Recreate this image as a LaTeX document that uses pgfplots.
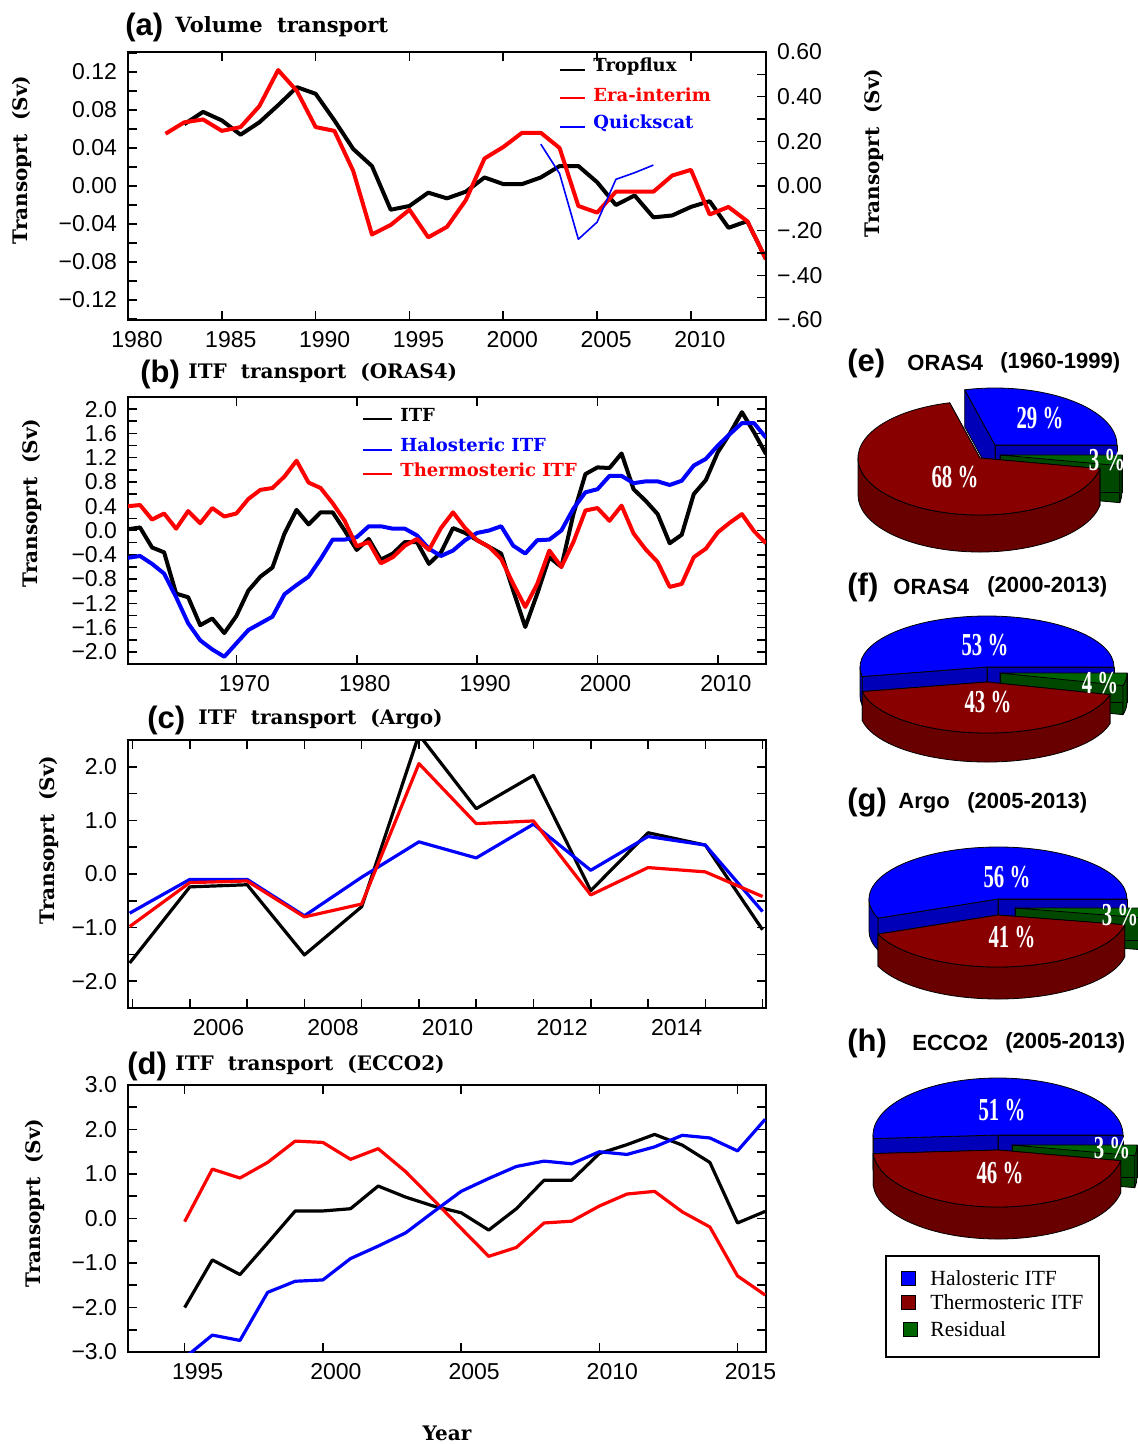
\documentclass[border=0pt]{standalone}
\usepackage{fontspec}
\setmainfont{Liberation Sans}
\newfontfamily\slab{DejaVu Serif}
\newfontfamily\tnr{Liberation Serif}
\newfontfamily\pief[FakeStretch=0.65]{Liberation Serif}
\usepackage{pgfplots}
\pgfplotsset{compat=1.18}

\definecolor{pblue}{RGB}{0,0,255}
\definecolor{pblueS}{RGB}{0,0,185}
\definecolor{pred}{RGB}{136,0,0}
\definecolor{predS}{RGB}{104,0,0}
\definecolor{pgreen}{RGB}{0,100,0}
\definecolor{pgreenS}{RGB}{0,72,0}

\pgfplotsset{
 panel/.style={scale only axis, width=319pt, height=134pt, anchor=south west,
   axis line style={line width=0.9pt},
   every tick/.style={black, line width=0.8pt},
   major tick length=4.5pt, minor tick length=4.5pt,
   tick align=inside,
   tick label style={font=\fontsize{11.5}{12}\selectfont},
   /pgf/number format/1000 sep={},
   /pgf/number format/assume math mode=true,
 },
}

\newcommand{\pieslice}[6]{%
\begin{scope}[shift={(#3,#4)}]
\pgfmathsetmacro{\xA}{\rx*cos(#1)}\pgfmathsetmacro{\yA}{\ry*sin(#1)}%
\pgfmathsetmacro{\xB}{\rx*cos(#2)}\pgfmathsetmacro{\yB}{\ry*sin(#2)}%
\filldraw[fill=#6, draw=black, line width=0.4pt, line join=round] (0,0) -- (\xA,\yA) -- (\xA,\yA-\dep) -- (0,-\dep) -- cycle;
\filldraw[fill=#6, draw=black, line width=0.4pt, line join=round] (0,0) -- (\xB,\yB) -- (\xB,\yB-\dep) -- (0,-\dep) -- cycle;
\pgfmathsetmacro{\sA}{max(#1,180)}\pgfmathsetmacro{\eA}{min(#2,360)}%
\pgfmathtruncatemacro{\vis}{\sA<\eA}%
\ifnum\vis=1
\filldraw[fill=#6, draw=black, line width=0.4pt, line join=round] ({\rx*cos(\sA)},{\ry*sin(\sA)}) arc[start angle=\sA, end angle=\eA, x radius=\rx, y radius=\ry] -- ++(0,-\dep) arc[start angle=\eA, end angle=\sA, x radius=\rx, y radius=\ry] -- cycle;
\fi
\filldraw[fill=#5, draw=black, line width=0.4pt, line join=round] (0,0) -- (\xA,\yA) arc[start angle=#1, end angle=#2, x radius=\rx, y radius=\ry] -- cycle;
\end{scope}}

\newcommand{\ttl}[1]{\fontsize{15.5}{16}\selectfont\bfseries #1}
\newcommand{\stl}[1]{\slab\bfseries\fontsize{10}{12}\selectfont #1}
\newcommand{\lgd}[1]{\slab\bfseries\fontsize{9}{11}\selectfont #1}
\newcommand{\ptl}[1]{\fontsize{11}{12}\selectfont\bfseries #1}
\newcommand{\pct}[1]{\pief\bfseries\fontsize{16}{16}\selectfont #1}

\begin{document}
\begin{tikzpicture}
\path[use as bounding box] (0,0) rectangle (569pt,-722pt);

% ---------------- (a)
\begin{axis}[panel, at={(64pt,-160pt)}, xmin=1980, xmax=2014, ymin=-0.141, ymax=0.141,
 xtick={1980,1985,1990,1995,2000,2005,2010},
 ytick={-0.12,-0.08,-0.04,0,0.04,0.08,0.12},
 yticklabels={−0.12,−0.08,−0.04,0.00,0.04,0.08,0.12},
 minor ytick={-0.14,-0.10,-0.06,-0.02,0.02,0.06,0.10,0.14},
 ytick pos=left, xtick pos=both,
 xticklabel style={yshift=-2pt, xshift=4.5pt}, yticklabel style={xshift=-2pt}]
\addplot[black, line width=2pt, line join=round] coordinates {
(1983,0.065)(1984,0.078)(1985,0.069)(1986,0.054)(1987,0.067)(1988,0.085)(1989,0.104)
(1990,0.097)(1991,0.069)(1992,0.039)(1993,0.021)(1994,-0.025)(1995,-0.021)(1996,-0.007)
(1997,-0.013)(1998,-0.006)(1999,0.009)(2000,0.002)(2001,0.002)(2002,0.009)(2003,0.021)
(2004,0.021)(2005,0.004)(2006,-0.020)(2007,-0.010)(2008,-0.033)(2009,-0.031)(2010,-0.022)
(2011,-0.016)(2012,-0.044)(2013,-0.037)(2014,-0.077)};
\addplot[red, line width=2pt, line join=round] coordinates {
(1982,0.055)(1983,0.067)(1984,0.070)(1985,0.058)(1986,0.062)(1987,0.084)(1988,0.122)
(1989,0.100)(1990,0.062)(1991,0.058)(1992,0.016)(1993,-0.051)(1994,-0.041)(1995,-0.025)
(1996,-0.054)(1997,-0.043)(1998,-0.015)(1999,0.029)(2000,0.041)(2001,0.056)(2002,0.056)
(2003,0.040)(2004,-0.021)(2005,-0.028)(2006,-0.006)(2007,-0.006)(2008,-0.006)(2009,0.011)
(2010,0.017)(2011,-0.030)(2012,-0.022)(2013,-0.037)(2014,-0.077)};
\addplot[blue, line width=0.8pt, line join=round] coordinates {
(2002,0.044)(2003,0.013)(2004,-0.056)(2005,-0.038)(2006,0.007)(2007,0.014)(2008,0.022)};
\end{axis}
\begin{axis}[panel, at={(64pt,-160pt)}, xmin=1980, xmax=2014, ymin=-0.6, ymax=0.6,
 axis y line*=right, axis x line=none,
 ytick={-0.6,-0.4,-0.2,0,0.2,0.4,0.6},
 yticklabels={−.60,−.40,−.20,0.00,0.20,0.40,0.60},
 minor ytick={-0.5,-0.3,-0.1,0.1,0.3,0.5},
 yticklabel style={xshift=2pt}]
\end{axis}

% ---------------- (b)
\begin{axis}[panel, at={(64pt,-332pt)}, height=133.5pt, xmin=1961, xmax=2014, ymin=-2.2, ymax=2.2,
 xtick={1970,1980,1990,2000,2010},
 ytick={-2,-1.6,-1.2,-0.8,-0.4,0,0.4,0.8,1.2,1.6,2},
 yticklabels={−2.0,−1.6,−1.2,−0.8,−0.4,0.0,0.4,0.8,1.2,1.6,2.0},
 minor ytick={-1.8,-1.4,-1.0,-0.6,-0.2,0.2,0.6,1.0,1.4,1.8},
 xticklabel style={yshift=-2pt, xshift=4pt}, yticklabel style={xshift=-2pt}]
\addplot[black, line width=2pt, line join=round] coordinates {
(1961,0.02)(1962,0.05)(1963,-0.28)(1964,-0.36)(1965,-1.04)(1966,-1.10)(1967,-1.56)(1968,-1.45)
(1969,-1.69)(1970,-1.41)(1971,-0.99)(1972,-0.76)(1973,-0.61)(1974,-0.05)(1975,0.34)(1976,0.10)
(1977,0.30)(1978,0.30)(1979,0.00)(1980,-0.32)(1981,-0.14)(1982,-0.48)(1983,-0.38)(1984,-0.19)
(1985,-0.19)(1986,-0.55)(1987,-0.36)(1988,0.04)(1989,-0.04)(1990,-0.16)(1991,-0.27)(1992,-0.38)
(1993,-0.99)(1994,-1.59)(1995,-1.04)(1996,-0.44)(1997,-0.60)(1998,0.27)(1999,0.93)(2000,1.04)
(2001,1.03)(2002,1.27)(2003,0.68)(2004,0.49)(2005,0.27)(2006,-0.21)(2007,-0.07)(2008,0.60)
(2009,0.83)(2010,1.29)(2011,1.60)(2012,1.95)(2013,1.62)(2014,1.26)};
\addplot[blue, line width=2pt, line join=round] coordinates {
(1961,-0.45)(1962,-0.42)(1963,-0.55)(1964,-0.71)(1965,-1.10)(1966,-1.53)(1967,-1.81)(1968,-1.96)
(1969,-2.08)(1970,-1.86)(1971,-1.64)(1972,-1.53)(1973,-1.42)(1974,-1.05)(1975,-0.90)(1976,-0.76)
(1977,-0.47)(1978,-0.15)(1979,-0.15)(1980,-0.11)(1981,0.07)(1982,0.07)(1983,0.03)(1984,0.03)
(1985,-0.08)(1986,-0.30)(1987,-0.42)(1988,-0.33)(1989,-0.16)(1990,-0.04)(1991,0.00)(1992,0.07)
(1993,-0.25)(1994,-0.38)(1995,-0.16)(1996,-0.15)(1997,0.00)(1998,0.36)(1999,0.63)(2000,0.68)
(2001,0.90)(2002,0.90)(2003,0.78)(2004,0.81)(2005,0.81)(2006,0.75)(2007,0.82)(2008,1.07)
(2009,1.18)(2010,1.40)(2011,1.59)(2012,1.77)(2013,1.77)(2014,1.53)};
\addplot[red, line width=2pt, line join=round] coordinates {
(1961,0.40)(1962,0.42)(1963,0.18)(1964,0.28)(1965,0.03)(1966,0.32)(1967,0.12)(1968,0.37)
(1969,0.23)(1970,0.28)(1971,0.52)(1972,0.67)(1973,0.70)(1974,0.89)(1975,1.15)(1976,0.79)
(1977,0.70)(1978,0.45)(1979,0.16)(1980,-0.26)(1981,-0.19)(1982,-0.54)(1983,-0.44)(1984,-0.25)
(1985,-0.14)(1986,-0.32)(1987,0.04)(1988,0.30)(1989,0.04)(1990,-0.16)(1991,-0.27)(1992,-0.47)
(1993,-0.88)(1994,-1.26)(1995,-0.88)(1996,-0.33)(1997,-0.60)(1998,-0.19)(1999,0.33)(2000,0.37)
(2001,0.16)(2002,0.41)(2003,-0.05)(2004,-0.31)(2005,-0.52)(2006,-0.93)(2007,-0.88)(2008,-0.44)
(2009,-0.30)(2010,-0.03)(2011,0.13)(2012,0.27)(2013,-0.01)(2014,-0.21)};
\end{axis}

% ---------------- (c)
\begin{axis}[panel, at={(64pt,-504pt)}, xmin=2004.42, xmax=2015.56, ymin=-2.5, ymax=2.5,
 xtick={2004.5,2005.5,2006.5,2007.5,2008.5,2009.5,2010.5,2011.5,2012.5,2013.5,2014.5,2015.5},
 xticklabels={},
 extra x ticks={2006,2008,2010,2012,2014},
 extra x tick labels={2006,2008,2010,2012,2014},
 extra x tick style={major tick length=0pt, grid=none, xticklabel style={yshift=-2pt}},
 ytick={-2,-1,0,1,2},
 yticklabels={−2.0,−1.0,0.0,1.0,2.0},
 minor ytick={-2.5,-1.5,-0.5,0.5,1.5,2.5},
 yticklabel style={xshift=-2pt}]
\addplot[black, line width=1.6pt, line join=round] coordinates {
(2004.45,-1.66)(2005.5,-0.24)(2006.5,-0.20)(2007.5,-1.51)(2008.5,-0.61)(2009.5,2.60)
(2010.5,1.22)(2011.5,1.84)(2012.5,-0.31)(2013.5,0.77)(2014.5,0.54)(2015.5,-1.04)};
\addplot[blue, line width=1.6pt, line join=round] coordinates {
(2004.45,-0.73)(2005.5,-0.10)(2006.5,-0.10)(2007.5,-0.78)(2008.5,-0.06)(2009.5,0.60)
(2010.5,0.30)(2011.5,0.93)(2012.5,0.07)(2013.5,0.70)(2014.5,0.54)(2015.5,-0.70)};
\addplot[red, line width=1.6pt, line join=round] coordinates {
(2004.45,-0.98)(2005.5,-0.16)(2006.5,-0.13)(2007.5,-0.80)(2008.5,-0.56)(2009.5,2.06)
(2010.5,0.94)(2011.5,0.99)(2012.5,-0.39)(2013.5,0.12)(2014.5,0.04)(2015.5,-0.42)};
\end{axis}

% ---------------- (d)
\begin{axis}[panel, at={(64pt,-676pt)}, height=133.5pt, xmin=1992.95, xmax=2016.03, ymin=-3, ymax=3,
 xtick={1995,2000,2005,2010,2015},
 ytick={-3,-2,-1,0,1,2,3},
 yticklabels={−3.0,−2.0,−1.0,0.0,1.0,2.0,3.0},
 minor ytick={-2.5,-1.5,-0.5,0.5,1.5,2.5},
 xticklabel style={yshift=-2pt, xshift=6.5pt}, yticklabel style={xshift=-2pt}]
\addplot[black, line width=1.6pt, line join=round] coordinates {
(1995,-2.00)(1996,-0.93)(1997,-1.26)(1998,-0.55)(1999,0.17)(2000,0.17)(2001,0.22)(2002,0.73)
(2003,0.48)(2004,0.28)(2005,0.13)(2006,-0.26)(2007,0.22)(2008,0.86)(2009,0.86)(2010,1.46)
(2011,1.66)(2012,1.89)(2013,1.65)(2014,1.26)(2015,-0.10)(2016,0.16)};
\addplot[red, line width=1.6pt, line join=round] coordinates {
(1995,-0.07)(1996,1.11)(1997,0.91)(1998,1.26)(1999,1.74)(2000,1.71)(2001,1.33)(2002,1.57)
(2003,1.05)(2004,0.42)(2005,-0.22)(2006,-0.85)(2007,-0.65)(2008,-0.10)(2009,-0.06)(2010,0.28)
(2011,0.55)(2012,0.61)(2013,0.15)(2014,-0.19)(2015,-1.29)(2016,-1.72)};
\addplot[blue, line width=1.6pt, line join=round] coordinates {
(1995,-3.13)(1996,-2.62)(1997,-2.74)(1998,-1.66)(1999,-1.41)(2000,-1.38)(2001,-0.90)(2002,-0.62)
(2003,-0.32)(2004,0.15)(2005,0.61)(2006,0.90)(2007,1.17)(2008,1.29)(2009,1.23)(2010,1.50)
(2011,1.44)(2012,1.61)(2013,1.87)(2014,1.81)(2015,1.52)(2016,2.23)};
\end{axis}

% ---------------- annotations and pies (pixel units, y down)
\begin{scope}[x=0.5pt, y=-0.5pt]
% titles
\node[anchor=west, inner sep=0] at (125,27) {\ttl{(a)}};
\node[anchor=west, inner sep=0] at (175,27) {\slab\bfseries\fontsize{10.5}{12}\selectfont Volume\ \ transport};
\node[anchor=west, inner sep=0] at (140,374) {\ttl{(b)}};
\node[anchor=west, inner sep=0] at (188,373) {\stl{ITF\ \ transport\ \ (ORAS4)}};
\node[anchor=west, inner sep=0] at (147,720) {\ttl{(c)}};
\node[anchor=west, inner sep=0] at (198,719) {\stl{ITF\ \ transport\ \ (Argo)}};
\node[anchor=west, inner sep=0] at (127,1066) {\ttl{(d)}};
\node[anchor=west, inner sep=0] at (175,1065) {\stl{ITF\ \ transport\ \ (ECCO2)}};
% y labels
\node[rotate=90] at (22,160) {\stl{Transoprt\ \ (Sv)}};
\node[rotate=90] at (874,153) {\stl{Transoprt\ \ (Sv)}};
\node[rotate=90] at (32,503) {\stl{Transoprt\ \ (Sv)}};
\node[rotate=90] at (49,840) {\stl{Transoprt\ \ (Sv)}};
\node[rotate=90] at (35,1203) {\stl{Transoprt\ \ (Sv)}};
\node at (447,1433) {\stl{Year}};
% legend (a)
\draw[black, line width=1.2pt] (560,70) -- (585,70);
\draw[red, line width=1.2pt] (560,98) -- (585,98);
\draw[blue, line width=1.2pt] (560,127) -- (585,127);
\node[anchor=west, inner sep=0] at (593,67) {\lgd{Tropflux}};
\node[anchor=west, inner sep=0, text=red] at (593,95) {\lgd{Era-interim}};
\node[anchor=west, inner sep=0, text=blue] at (593,123) {\lgd{Quickscat}};
% legend (b)
\draw[black, line width=1.2pt] (363,419) -- (392,419);
\draw[blue, line width=1.2pt] (363,450) -- (392,450);
\draw[red, line width=1.2pt] (363,474) -- (392,474);
\node[anchor=west, inner sep=0] at (400,415) {\lgd{ITF}};
\node[anchor=west, inner sep=0, text=blue] at (400,445) {\lgd{Halosteric ITF}};
\node[anchor=west, inner sep=0, text=red] at (400,470) {\lgd{Thermosteric ITF}};

% pie titles
\node[anchor=west, inner sep=0] at (847,363) {\ttl{(e)}};
\node[anchor=west, inner sep=0] at (907,363) {\ptl{ORAS4}};
\node[anchor=west, inner sep=0] at (1000,363) {\ptl{(1960-1999)}};
\node[anchor=west, inner sep=0] at (847,587) {\ttl{(f)}};
\node[anchor=west, inner sep=0] at (893,587) {\ptl{ORAS4}};
\node[anchor=west, inner sep=0] at (987,587) {\ptl{(2000-2013)}};
\node[anchor=west, inner sep=0] at (847,803) {\ttl{(g)}};
\node[anchor=west, inner sep=0] at (898,803) {\ptl{Argo}};
\node[anchor=west, inner sep=0] at (967,803) {\ptl{(2005-2013)}};
\node[anchor=west, inner sep=0] at (847,1043) {\ttl{(h)}};
\node[anchor=west, inner sep=0] at (912,1043) {\ptl{ECCO2}};
\node[anchor=west, inner sep=0] at (1005,1043) {\ptl{(2005-2013)}};

% pie (e)
\begin{scope}[shift={(980,458)}, y=0.5pt]
\def\rx{122}\def\ry{57}\def\dep{37}
\pieslice{0}{104.4}{15}{13}{pblue}{pblueS}
\pieslice{349.2}{360}{20}{3}{pgreen}{pgreenS}
\pieslice{104.4}{349.2}{0}{0}{pred}{predS}
\end{scope}
\node[text=white] at (1040,418) {\pct{29\,\%}};
\node[text=white] at (955,477) {\pct{68\,\%}};
\node[text=white] at (1107,460) {\pct{3\,\%}};

% pie (f)
\begin{scope}[shift={(987,667)}, y=0.5pt]
\def\rx{127}\def\ry{51}\def\dep{29}
\pieslice{0}{190.8}{0}{0}{pblue}{pblueS}
\pieslice{345.6}{360}{13}{-6}{pgreen}{pgreenS}
\pieslice{190.8}{345.6}{0}{-15}{pred}{predS}
\end{scope}
\node[text=white] at (985,645) {\pct{53\,\%}};
\node[text=white] at (988,702) {\pct{43\,\%}};
\node[text=white] at (1100,683) {\pct{4\,\%}};

% pie (g)
\begin{scope}[shift={(998,899)}, y=0.5pt]
\def\rx{129}\def\ry{52}\def\dep{32}
\pieslice{0}{201.6}{0}{0}{pblue}{pblueS}
\pieslice{349.2}{360}{17}{-9}{pgreen}{pgreenS}
\pieslice{201.6}{349.2}{0}{-16}{pred}{predS}
\end{scope}
\node[text=white] at (1007,877) {\pct{56\,\%}};
\node[text=white] at (1012,937) {\pct{41\,\%}};
\node[text=white] at (1120,915) {\pct{3\,\%}};

% pie (h)
\begin{scope}[shift={(998,1135)}, y=0.5pt]
\def\rx{125}\def\ry{57}\def\dep{32}
\pieslice{0}{183.6}{0}{0}{pblue}{pblueS}
\pieslice{349.2}{360}{14}{-10}{pgreen}{pgreenS}
\pieslice{183.6}{349.2}{0}{-15}{pred}{predS}
\end{scope}
\node[text=white] at (1002,1110) {\pct{51\,\%}};
\node[text=white] at (1000,1173) {\pct{46\,\%}};
\node[text=white] at (1112,1148) {\pct{3\,\%}};

% pie legend
\draw[line width=0.7pt] (886,1256) rectangle (1099,1357);
\filldraw[fill=pblue, draw=black, line width=0.5pt] (901,1271) rectangle (915,1285);
\filldraw[fill=pred, draw=black, line width=0.5pt] (901,1295) rectangle (915,1309);
\filldraw[fill=pgreen, draw=black, line width=0.5pt] (903,1322) rectangle (917,1336);
\node[anchor=west, inner sep=0] at (930,1278) {\tnr\fontsize{10.8}{12}\selectfont Halosteric ITF};
\node[anchor=west, inner sep=0] at (930,1302) {\tnr\fontsize{10.8}{12}\selectfont Thermosteric ITF};
\node[anchor=west, inner sep=0] at (930,1329) {\tnr\fontsize{10.8}{12}\selectfont Residual};
\end{scope}
\end{tikzpicture}
\end{document}
